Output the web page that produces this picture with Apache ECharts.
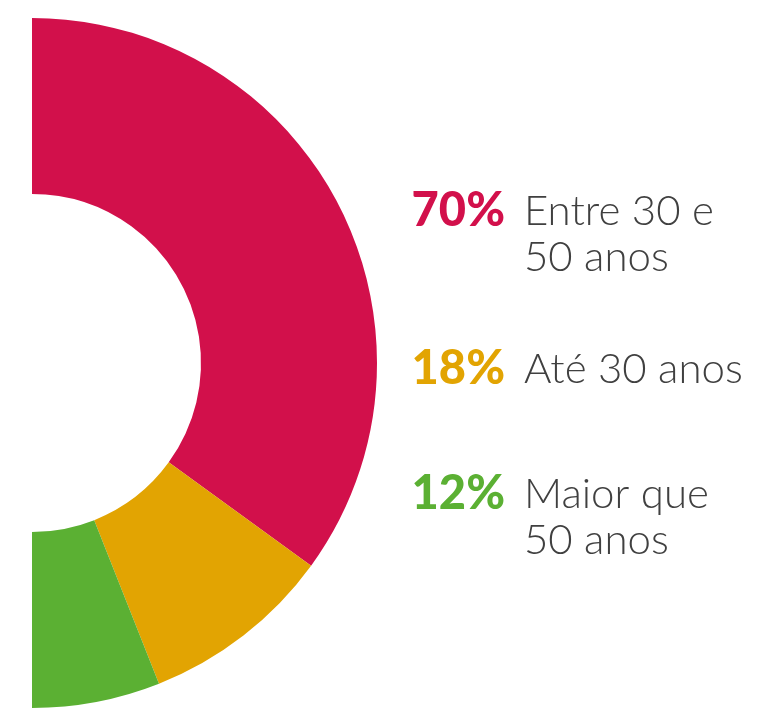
<!DOCTYPE html>
<html>
<head>
<meta charset="utf-8">
<script src="https://cdn.jsdelivr.net/npm/echarts@6/dist/echarts.min.js"></script>
<style>
  html, body { margin: 0; padding: 0; background: #ffffff; }
  #chart { width: 771px; height: 711px; }
</style>
</head>
<body>
<div id="chart"></div>
<script>
// Age distribution, shown as a half donut
var categories = ['Entre 30 e\n50 anos', 'Até 30 anos', 'Maior que\n50 anos'];
var shares = [70, 18, 12];
var colors = ['#D2104B', '#E2A402', '#5BB033'];
// vertical anchor (middle of the first text line) for each legend block
var blockY = [211, 369, 494];

var chart = echarts.init(document.getElementById('chart'));

var total = shares.reduce(function (a, b) { return a + b; }, 0);
var pieData = categories.map(function (name, i) {
  return { name: name, value: shares[i], itemStyle: { color: colors[i] } };
});
// invisible filler occupies the left half so the visible ring spans 180°
pieData.push({
  name: '', value: total,
  itemStyle: { color: 'rgba(0,0,0,0)' },
  label: { show: false }, emphasis: { disabled: true }
});

var LINE = 46;
var graphics = [];
categories.forEach(function (name, i) {
  graphics.push({
    type: 'text', x: 505, y: blockY[i],
    style: {
      text: shares[i] + '%',
      fill: colors[i],
      font: '900 47px Lato',
      align: 'right', verticalAlign: 'middle'
    }
  });
  graphics.push({
    type: 'text', x: 524, y: blockY[i] - LINE / 2,
    style: {
      text: name,
      fill: '#404040',
      font: '300 42px Lato',
      lineHeight: LINE,
      align: 'left', verticalAlign: 'top'
    }
  });
});

chart.setOption({
  animation: false,
  series: [{
    type: 'pie',
    center: [32, 363],
    radius: [169, 345],
    startAngle: 90,
    clockwise: true,
    silent: true,
    label: { show: false },
    labelLine: { show: false },
    itemStyle: { borderWidth: 0 },
    data: pieData
  }],
  graphic: graphics
});
</script>
</body>
</html>
